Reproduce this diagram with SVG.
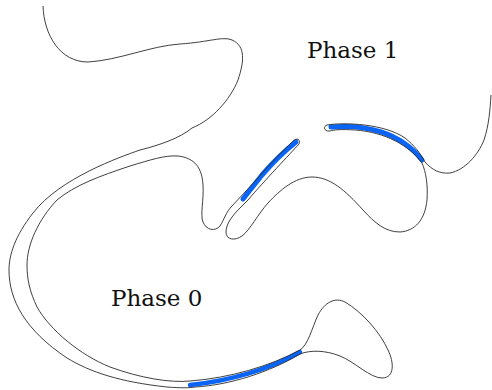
<svg xmlns="http://www.w3.org/2000/svg" width="492" height="390" viewBox="0 0 492 390">
<style>
.edge{fill:none;stroke:#2a2a2a;stroke-width:0.9;stroke-linejoin:round}
.band{fill:none;stroke:#0a64f5;stroke-linecap:round}
.lbl{font-family:"DejaVu Serif","Liberation Serif",serif;font-size:23px;fill:#111}
</style>
<rect width="492" height="390" fill="#fff"/>
<g id="bands">
<path class="band" stroke-width="4.5" d="M190,385 C230,381 270,369 300,352"/>
<path class="band" stroke-width="5" d="M243,199 L262,175 C275,160 287,149 296,142"/>
<path class="band" stroke-width="5" d="M331,127 C365,124 400,132 422,160"/>
</g>
<g id="boundary">
<path class="edge" d="M43,6 C44,35 60,62 88,62 C120,60 150,46 180,44 S222,36 232,40 C246,46 244,62 238,80 C230,100 212,120 192,128 C180,138 160,145 140,150 C120,157 60,178 33,213 C15,236 9,255 9,270 C9,300 25,330 67,358 C90,372 120,382 167,387 C180,388 190,388 195,387 C230,385 270,372 300,354 C310,350 325,350 340,356 C355,362 370,378 382,378 C395,378 394,362 388,350 C380,332 362,312 345,302 C335,297 325,302 318,315 C312,328 308,345 300,350 C270,366 230,378 190,381 C170,383 140,378 110,367 C80,355 50,330 37,307 C30,292 27,280 27,265 C27,245 38,220 57,200 C75,185 100,176 130,166 C150,160 165,155 178,156 C195,158 202,168 203,185 C204,200 200,215 203,222 C206,230 215,232 220,226 C224,220 226,212 232,206 L258,178 C270,164 285,149 293,141 C297,137 301,140 299,144 C290,154 265,180 248,200 L240,208 C232,216 226,224 226,232 C226,240 235,241 242,236 C250,230 258,214 268,203 C280,190 295,177 312,177 C330,177 345,190 363,210 C375,223 385,232 400,232 C415,231 425,220 427,200 C428,185 426,172 422,163 C410,146 385,132 355,130 C340,129 333,130 330,131 C325,132 322,127 327,125 C345,122 385,124 405,138 C415,146 420,153 425,162 C432,170 440,174 450,173 C465,170 478,155 484,140 C489,125 490,110 491,95"/>
</g>
<g id="phase1"><text class="lbl" x="307" y="58">Phase 1</text></g>
<g id="phase0"><text class="lbl" x="111" y="306">Phase 0</text></g>
</svg>
